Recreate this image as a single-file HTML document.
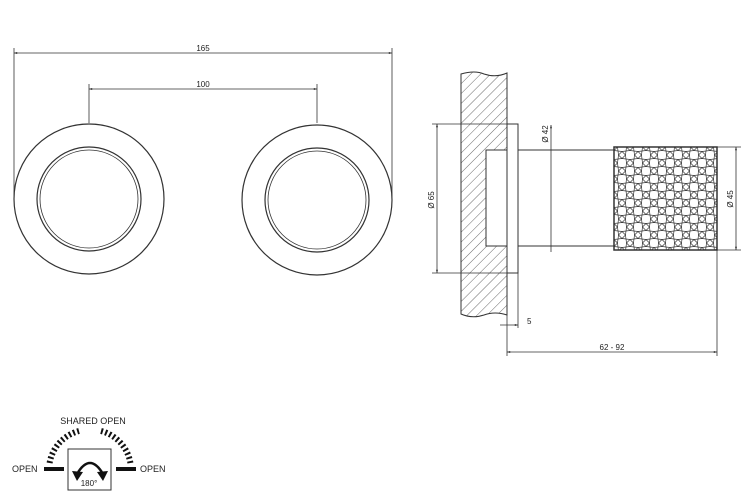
<!DOCTYPE html>
<html><head><meta charset="utf-8"><style>
html,body{margin:0;padding:0;background:#fff;}
svg{display:block;}
text{font-family:"Liberation Sans",sans-serif;fill:#222;}
</style></head><body>
<svg width="750" height="502" viewBox="0 0 750 502" xmlns="http://www.w3.org/2000/svg">
<defs>
<pattern id="hatch" width="7" height="7" patternUnits="userSpaceOnUse" patternTransform="rotate(45)">
<line x1="0" y1="0" x2="0" y2="7" stroke="#444" stroke-width="0.8"/>
</pattern>
<pattern id="knurl" width="16" height="16" patternUnits="userSpaceOnUse" x="614" y="147">
<g fill="none" stroke="#333" stroke-width="0.7">
<path d="M8 4.5 L11.5 8 L8 11.5 L4.5 8 Z"/>
<path d="M0 -3.5 L3.5 0 L0 3.5 L-3.5 0 Z"/>
<path d="M16 -3.5 L19.5 0 L16 3.5 L12.5 0 Z"/>
<path d="M0 12.5 L3.5 16 L0 19.5 L-3.5 16 Z"/>
<path d="M16 12.5 L19.5 16 L16 19.5 L12.5 16 Z"/>
<path d="M3.5 0 L4.5 8 M12.5 0 L11.5 8 M3.5 16 L4.5 8 M12.5 16 L11.5 8 M0 3.5 L8 4.5 M16 3.5 L8 4.5 M0 12.5 L8 11.5 M16 12.5 L8 11.5"/>
</g>
</pattern>
<marker id="ar" viewBox="0 0 10 10" refX="10" refY="5" markerWidth="6" markerHeight="4" orient="auto-start-reverse"><path d="M0 2 L10 5 L0 8 Z" fill="#222"/></marker>
</defs>
<g stroke="#333" fill="none" stroke-width="1">
<line x1="14" y1="48" x2="14" y2="200" stroke-width="0.8"/>
<line x1="392" y1="48" x2="392" y2="200" stroke-width="0.8"/>
<line x1="14" y1="53" x2="392" y2="53" stroke-width="0.8" marker-start="url(#ar)" marker-end="url(#ar)"/>
<line x1="89" y1="84" x2="89" y2="123" stroke-width="0.8"/>
<line x1="317" y1="84" x2="317" y2="123" stroke-width="0.8"/>
<line x1="89" y1="89" x2="317" y2="89" stroke-width="0.8" marker-start="url(#ar)" marker-end="url(#ar)"/>
<circle cx="89" cy="199" r="75" stroke-width="1.2"/>
<circle cx="89" cy="199" r="52" stroke-width="1.2"/>
<circle cx="89" cy="199" r="49" stroke-width="0.8"/>
<circle cx="317" cy="200" r="75" stroke-width="1.2"/>
<circle cx="317" cy="200" r="52" stroke-width="1.2"/>
<circle cx="317" cy="200" r="49" stroke-width="0.8"/>
<path d="M461 74 Q475 70 484 74 Q496 78 507 73 L507 315 Q495 311 484 315 Q472 319 461 314 Z" fill="url(#hatch)" stroke-width="1"/>
<rect x="486" y="150" width="21" height="96" fill="#fff" stroke-width="1"/>
<rect x="507" y="124" width="11" height="149" fill="#fff" stroke-width="1"/>
<line x1="518" y1="150" x2="614" y2="150"/>
<line x1="518" y1="246" x2="614" y2="246"/>
<rect x="614" y="147" width="103" height="103" fill="url(#knurl)" stroke-width="1.5"/>
<line x1="432" y1="124" x2="507" y2="124" stroke-width="0.8"/>
<line x1="432" y1="273" x2="507" y2="273" stroke-width="0.8"/>
<line x1="437" y1="124" x2="437" y2="273" stroke-width="0.8" marker-start="url(#ar)" marker-end="url(#ar)"/>
<line x1="551" y1="125" x2="551" y2="252" stroke-width="0.8" marker-start="url(#ar)"/>
<line x1="717" y1="147" x2="741" y2="147" stroke-width="0.8"/>
<line x1="717" y1="250" x2="741" y2="250" stroke-width="0.8"/>
<line x1="736" y1="147" x2="736" y2="250" stroke-width="0.8" marker-start="url(#ar)" marker-end="url(#ar)"/>
<line x1="507" y1="273" x2="507" y2="356" stroke-width="0.8"/>
<line x1="518" y1="273" x2="518" y2="328" stroke-width="0.8"/>
<line x1="717" y1="250" x2="717" y2="356" stroke-width="0.8"/>
<line x1="500" y1="325" x2="518" y2="325" stroke-width="0.8" marker-end="url(#ar)"/>
<line x1="507" y1="352" x2="717" y2="352" stroke-width="0.8" marker-start="url(#ar)" marker-end="url(#ar)"/>
<rect x="68" y="449" width="43" height="41" stroke-width="1"/>
<line x1="44" y1="469" x2="64" y2="469" stroke="#111" stroke-width="4"/>
<line x1="116" y1="469" x2="136" y2="469" stroke="#111" stroke-width="4"/>
<path d="M49.6 463 A40 40 0 0 1 79 431" stroke="#111" stroke-width="6" stroke-dasharray="2 2.4"/>
<path d="M101 431 A40 40 0 0 1 130.4 463" stroke="#111" stroke-width="6" stroke-dasharray="2 2.4"/>
<path d="M77 474 Q90 452 103 474" stroke="#111" stroke-width="2.5"/>
<path d="M72 471 L77 481 L83 472 Z" fill="#111" stroke="none"/>
<path d="M97 472 L103 481 L108 471 Z" fill="#111" stroke="none"/>
</g>
<text x="203" y="51" font-size="8" text-anchor="middle">165</text>
<text x="203" y="87" font-size="8" text-anchor="middle">100</text>
<text x="527" y="324" font-size="8">5</text>
<text x="612" y="350" font-size="8" text-anchor="middle">62 - 92</text>
<text font-size="8" text-anchor="middle" transform="translate(434,200) rotate(-90)">Ø 65</text>
<text font-size="8" text-anchor="middle" transform="translate(548,134) rotate(-90)">Ø 42</text>
<text font-size="8" text-anchor="middle" transform="translate(733,199) rotate(-90)">Ø 45</text>
<text x="93" y="424" font-size="9" text-anchor="middle">SHARED OPEN</text>
<text x="12" y="472" font-size="9">OPEN</text>
<text x="140" y="472" font-size="9">OPEN</text>
<text x="89" y="486" font-size="8" text-anchor="middle">180°</text>
</svg>
</body></html>
